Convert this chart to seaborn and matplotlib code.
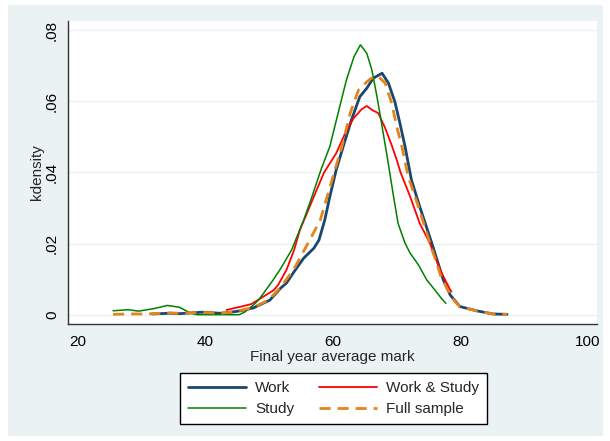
import numpy as np
import pandas as pd
import matplotlib
matplotlib.use("Agg")
import matplotlib.pyplot as plt
from matplotlib.ticker import FuncFormatter
import seaborn as sns

# kernel density estimates (x = final year mark)
work_x = [31.6, 34.4, 36.0, 38.6, 39.6, 42.3, 44.0, 45.5, 47.5, 50.1, 51.8, 52.7, 53.9,
          55.4, 57.0, 57.8, 58.7, 59.5, 60.5, 61.6, 62.9, 64.2, 65.3, 66.3, 67.7, 68.7,
          69.7, 70.5, 71.3, 72.3, 73.6, 75.5, 77.3, 78.4, 79.9, 82.5, 85.1, 87.3]
work_y = [0.0002, 0.0004, 0.0003, 0.0006, 0.0007, 0.0004, 0.0007, 0.0011, 0.0019, 0.0041,
          0.0075, 0.0089, 0.0121, 0.0159, 0.0187, 0.0210, 0.0266, 0.0332, 0.0407, 0.0473,
          0.0548, 0.0613, 0.0637, 0.0665, 0.0679, 0.0651, 0.0599, 0.0538, 0.0473, 0.0379,
          0.0304, 0.0201, 0.0098, 0.0055, 0.0023, 0.0011, 0.0002, 0.0001]

ws_x = [43.3, 44.4, 45.9, 47.2, 49.1, 50.7, 51.4, 52.7, 53.9, 54.8, 55.9, 57.2, 58.6,
        60.5, 61.9, 63.2, 64.5, 65.3, 66.1, 67.1, 68.2, 69.2, 70.0, 70.6, 72.1, 73.6,
        75.2, 76.8, 78.4, 78.6]
ws_y = [0.0013, 0.0018, 0.0024, 0.0030, 0.0051, 0.0069, 0.0084, 0.0126, 0.0182, 0.0238,
        0.0285, 0.0341, 0.0400, 0.0454, 0.0510, 0.0552, 0.0578, 0.0587, 0.0576, 0.0567,
        0.0524, 0.0477, 0.0435, 0.0400, 0.0332, 0.0257, 0.0201, 0.0126, 0.0069, 0.0065]

study_x = [25.5, 27.9, 29.5, 31.9, 34.0, 35.9, 37.7, 38.7, 40.0, 42.0, 44.0, 45.3, 46.2,
           47.5, 48.3, 49.1, 50.7, 51.8, 53.5, 55.4, 56.7, 58.1, 59.5, 60.8, 62.1, 63.3,
           64.3, 65.3, 66.1, 66.9, 67.7, 68.5, 69.5, 70.2, 71.3, 72.1, 73.4, 74.7, 76.0,
           77.0, 77.7]
study_y = [0.0011, 0.0014, 0.0010, 0.0017, 0.0026, 0.0021, 0.0004, 0.0, 0.0, 0.0, 0.0,
           0.0, 0.0008, 0.0027, 0.0041, 0.0060, 0.0100, 0.0130, 0.0182, 0.0266, 0.0332,
           0.0407, 0.0473, 0.0567, 0.0660, 0.0726, 0.0759, 0.0735, 0.0688, 0.0613, 0.0529,
           0.0444, 0.0332, 0.0257, 0.0201, 0.0173, 0.0140, 0.0098, 0.0069, 0.0046, 0.0032]

full_x = [25.5, 28.0, 30.0, 32.0, 34.4, 36.0, 38.6, 40.0, 42.3, 44.0, 45.5, 47.5, 49.9,
          51.8, 53.8, 55.8, 58.0, 60.3, 61.4, 62.7, 64.0, 65.3, 66.0, 67.1, 68.2, 69.2,
          70.0, 70.8, 71.8, 73.4, 75.2, 77.0, 78.7, 79.9, 82.5, 85.1, 87.3]
full_y = [0.0001, 0.0002, 0.0002, 0.0003, 0.0005, 0.0004, 0.0006, 0.0006, 0.0004, 0.0007,
          0.0012, 0.0021, 0.0041, 0.0078, 0.0126, 0.0192, 0.0266, 0.0407, 0.0473, 0.0567,
          0.0632, 0.0655, 0.0665, 0.0670, 0.0651, 0.0595, 0.0529, 0.0473, 0.0388, 0.0304,
          0.0201, 0.0104, 0.0046, 0.0022, 0.0011, 0.0002, 0.0001]

x_ticks = [20, 40, 60, 80, 100]
y_ticks = [0, 0.02, 0.04, 0.06, 0.08]

series = [
    ("Work", work_x, work_y, "#1A476F", 2.0, "-"),
    ("Work & Study", ws_x, ws_y, "#FF0000", 1.3, "-"),
    ("Study", study_x, study_y, "#008000", 1.1, "-"),
    ("Full sample", full_x, full_y, "#E5841A", 2.0, (0, (4, 2.5))),
]

sns.set_style("white")
plt.rcParams["font.family"] = ["Liberation Sans", "DejaVu Sans"]

fig = plt.figure(figsize=(6.10, 4.41), dpi=100, facecolor="white")
# light outer graph region, behind everything
bg = fig.add_axes([8 / 610, 5 / 441, 595 / 610, 431 / 441], zorder=-5)
bg.set_facecolor("#EAF2F3")
bg.set_xticks([])
bg.set_yticks([])
for s in bg.spines.values():
    s.set_visible(False)

ax = fig.add_axes([68 / 610, 1 - 324 / 441, 529 / 610, 303 / 441], zorder=1)
ax.set_facecolor("white")

handles = {}
for name, xs, ys, color, lw, ls in series:
    df = pd.DataFrame({"x": xs, "y": ys})
    sns.lineplot(data=df, x="x", y="y", ax=ax, color=color, linewidth=lw,
                 linestyle=ls, sort=False, estimator=None, label=name)
    handles[name] = ax.lines[-1]

ax.set_xlim(18.43, 101.41)
ax.set_ylim(-0.00262, 0.0826)
ax.set_xticks(x_ticks)
ax.set_yticks(y_ticks)
ax.yaxis.set_major_formatter(FuncFormatter(
    lambda v, p: "0" if v == 0 else f"{v:.2f}".lstrip("0")))
for lab in ax.get_yticklabels():
    lab.set_rotation(90)
    lab.set_va("center")
ax.tick_params(axis="both", direction="out", length=5, width=0.9, color="#333333",
               labelsize=11, labelcolor="black", pad=3)
ax.tick_params(axis="y", pad=1.5)
ax.grid(axis="y", color="#EAF2F3", linewidth=1.0)
ax.set_axisbelow(True)
for side in ["top", "right"]:
    ax.spines[side].set_visible(False)
for side in ["left", "bottom"]:
    ax.spines[side].set_color("#333333")
    ax.spines[side].set_linewidth(1.0)

ax.set_xlabel("Final year average mark", fontsize=11, labelpad=1)
ax.set_ylabel("kdensity", fontsize=11, labelpad=1)

ax.get_legend().remove()
order = ["Work", "Study", "Work & Study", "Full sample"]
leg = fig.legend([handles[n] for n in order], order, loc="center",
                 bbox_to_anchor=(333.5 / 610, 1 - 398.5 / 441), ncol=2,
                 fontsize=11, frameon=True, fancybox=False, edgecolor="black",
                 facecolor="white", framealpha=1, handlelength=3.8,
                 columnspacing=1.6, handletextpad=0.6, labelspacing=0.45,
                 borderpad=0.5)
leg.get_frame().set_linewidth(1.0)

fig.savefig("out.png", dpi=100, facecolor="white")
